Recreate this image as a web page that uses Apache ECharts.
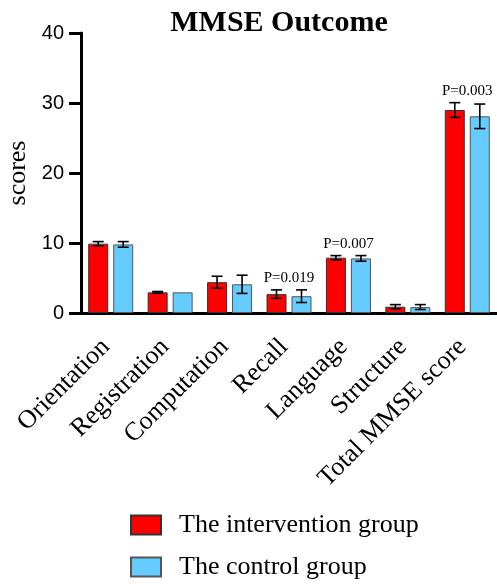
<!DOCTYPE html>
<html>
<head>
<meta charset="utf-8">
<script src="https://cdn.jsdelivr.net/npm/echarts@6/dist/echarts.min.js"></script>
<style>
  html, body { margin: 0; padding: 0; background: #fff; }
  #mmse_chart { width: 497px; height: 584px; }
</style>
</head>
<body>
<div id="mmse_chart"></div>
<script>
// Data
var categories = ['Orientation', 'Registration', 'Computation', 'Recall', 'Language', 'Structure', 'Total MMSE score'];
var interventionMean = [9.9, 2.95, 4.4, 2.7, 7.9, 0.9, 29.0];
var interventionSD = [0.3, 0.12, 0.85, 0.6, 0.3, 0.3, 1.05];
var controlMean = [9.8, 2.95, 4.1, 2.4, 7.8, 0.85, 28.1];
var controlSD = [0.4, 0, 1.3, 0.9, 0.4, 0.35, 1.75];
var pLabels = ['', '', '', 'P=0.019', 'P=0.007', '', 'P=0.003'];
var yTicks = [0, 10, 20, 30, 40];
var groupNames = ['The intervention group', 'The control group'];

var serif = '"Liberation Serif", "Times New Roman", serif';
var sans = '"Liberation Sans", Arial, sans-serif';

// Bar geometry
var barWidth = 20;
var barGapPx = 5;
var halfStep = (barWidth + barGapPx) / 2;

var chartEl = document.getElementById('mmse_chart');
var chart = echarts.init(chartEl);

// Error bar renderer, shifted onto its own bar
var makeErrorRender = function (shift) {
    return function (params, api) {
        var x = api.value(0);
        var mean = api.value(1);
        var sd = api.value(2);
        var hi = api.coord([x, mean + sd]);
        var lo = api.coord([x, mean - sd]);
        var cx = hi[0] + shift;
        var cap = 5.5;
        var style = { stroke: '#000', lineWidth: 1.6 };
        if (!sd) {
            return null;
        }
        return {
            type: 'group',
            children: [
                { type: 'line', shape: { x1: cx, y1: hi[1], x2: cx, y2: lo[1] }, style: style },
                { type: 'line', shape: { x1: cx - cap, y1: hi[1], x2: cx + cap, y2: hi[1] }, style: style },
                { type: 'line', shape: { x1: cx - cap, y1: lo[1], x2: cx + cap, y2: lo[1] }, style: style }
            ]
        };
    };
};

var errData = function (means, sds) {
    return means.map(function (m, i) { return [i, m, sds[i]]; });
};

var pData = categories.map(function (c, i) {
    var top = Math.max(interventionMean[i] + interventionSD[i], controlMean[i] + controlSD[i]);
    return [i, top, pLabels[i]];
});

// One legend per group, stacked
var legendBase = {
    orient: 'vertical',
    left: 130,
    padding: 0,
    icon: 'rect',
    itemWidth: 30,
    itemHeight: 19,
    textStyle: {
        fontFamily: serif,
        fontSize: 26,
        color: '#000',
        padding: [0, 0, 0, 13]
    }
};

chart.setOption({
    animation: false,
    title: {
        text: 'MMSE Outcome',
        left: 274,
        textAlign: 'center',
        top: 3,
        textStyle: {
            fontFamily: serif,
            fontSize: 30,
            fontWeight: 'bold',
            color: '#000'
        }
    },
    legend: [
        echarts.util.merge({ top: 512, data: [groupNames[0]] }, legendBase),
        echarts.util.merge({ top: 554, data: [groupNames[1]] }, legendBase)
    ],
    grid: {
        left: 81,
        right: 0,
        top: 33,
        bottom: 271,
        containLabel: false,
        outerBoundsMode: 'none'
    },
    xAxis: {
        type: 'category',
        data: categories,
        axisLine: { lineStyle: { color: '#000', width: 3 } },
        axisTick: { alignWithLabel: true, length: 11, lineStyle: { color: '#000', width: 3 } },
        axisLabel: {
            rotate: 45,
            margin: 25,
            interval: 0,
            align: 'right',
            verticalAlign: 'middle',
            padding: [0, 7, 0, 0],
            color: '#000',
            fontFamily: serif,
            fontSize: 26
        }
    },
    yAxis: {
        type: 'value',
        min: yTicks[0],
        max: yTicks[yTicks.length - 1],
        interval: 10,
        name: 'scores',
        nameLocation: 'middle',
        nameRotate: 90,
        nameGap: 48,
        nameTextStyle: { fontFamily: serif, fontSize: 26, color: '#000' },
        axisLine: { show: true, lineStyle: { color: '#000', width: 3 } },
        axisTick: { show: true, length: 12, lineStyle: { color: '#000', width: 3 } },
        axisLabel: { margin: 17, color: '#000', fontFamily: sans, fontSize: 20 },
        splitLine: { show: false }
    },
    series: [
        {
            name: groupNames[0],
            type: 'bar',
            barWidth: barWidth,
            barGap: (barGapPx / barWidth * 100) + '%',
            itemStyle: { color: '#ff0000', borderColor: '#333', borderWidth: 1 },
            data: interventionMean
        },
        {
            name: groupNames[1],
            type: 'bar',
            barWidth: barWidth,
            itemStyle: { color: '#66ccff', borderColor: '#555', borderWidth: 1 },
            data: controlMean
        },
        {
            name: 'errInt',
            type: 'custom',
            z: 10,
            renderItem: makeErrorRender(-halfStep),
            encode: { x: 0, y: 1 },
            data: errData(interventionMean, interventionSD)
        },
        {
            name: 'errCtl',
            type: 'custom',
            z: 10,
            renderItem: makeErrorRender(halfStep),
            encode: { x: 0, y: 1 },
            data: errData(controlMean, controlSD)
        },
        {
            name: 'pValues',
            type: 'custom',
            z: 10,
            encode: { x: 0, y: 1 },
            renderItem: function (params, api) {
                var label = pLabels[params.dataIndex];
                if (!label) {
                    return null;
                }
                var pt = api.coord([api.value(0), api.value(1)]);
                return {
                    type: 'text',
                    style: {
                        x: pt[0],
                        y: pt[1] - 4,
                        text: label,
                        textAlign: 'center',
                        textVerticalAlign: 'bottom',
                        font: '15px ' + serif,
                        fill: '#000'
                    }
                };
            },
            data: pData
        }
    ]
});

// Resize
window.addEventListener('resize', function () {
    chart.resize();
});
</script>
</body>
</html>
